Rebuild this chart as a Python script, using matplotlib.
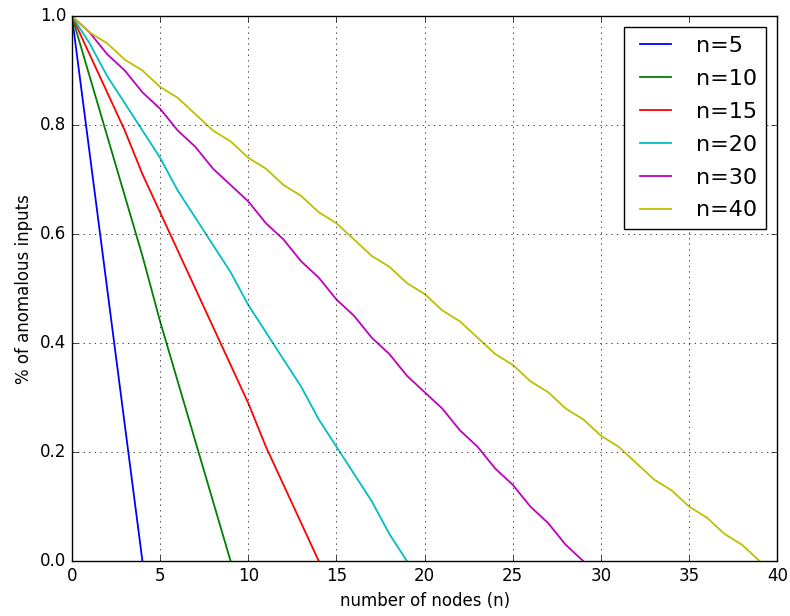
import matplotlib
matplotlib.use("Agg")
import matplotlib.pyplot as plt

# fraction of anomalous inputs left, per number of nodes, for each setting of n
x5 = [0, 1, 2, 3, 4]
y5 = [1.00, 0.75, 0.50, 0.25, 0.00]

x10 = list(range(10))
y10 = [1.00, 0.89, 0.78, 0.67, 0.56, 0.44, 0.33, 0.22, 0.11, 0.00]

x15 = list(range(15))
y15 = [1.00, 0.93, 0.86, 0.79, 0.71, 0.64, 0.57, 0.50, 0.43, 0.36,
       0.29, 0.21, 0.14, 0.07, 0.00]

x20 = list(range(20))
y20 = [1.00, 0.95, 0.89, 0.84, 0.79, 0.74, 0.68, 0.63, 0.58, 0.53,
       0.47, 0.42, 0.37, 0.32, 0.26, 0.21, 0.16, 0.11, 0.05, 0.00]

x30 = list(range(30))
y30 = [1.00, 0.97, 0.93, 0.90, 0.86, 0.83, 0.79, 0.76, 0.72, 0.69,
       0.66, 0.62, 0.59, 0.55, 0.52, 0.48, 0.45, 0.41, 0.38, 0.34,
       0.31, 0.28, 0.24, 0.21, 0.17, 0.14, 0.10, 0.07, 0.03, 0.00]

x40 = list(range(40))
y40 = [1.00, 0.97, 0.95, 0.92, 0.90, 0.87, 0.85, 0.82, 0.79, 0.77,
       0.74, 0.72, 0.69, 0.67, 0.64, 0.62, 0.59, 0.56, 0.54, 0.51,
       0.49, 0.46, 0.44, 0.41, 0.38, 0.36, 0.33, 0.31, 0.28, 0.26,
       0.23, 0.21, 0.18, 0.15, 0.13, 0.10, 0.08, 0.05, 0.03, 0.00]

labels = ["n=5", "n=10", "n=15", "n=20", "n=30", "n=40"]
colors = ["b", "g", "r", "c", "m", "y"]

plt.style.use("classic")

fig = plt.figure(figsize=(7.9, 6.16), dpi=100)
fig.subplots_adjust(left=0.091, right=0.984, top=0.974, bottom=0.089)
ax = fig.add_subplot(1, 1, 1)

series = [(x5, y5), (x10, y10), (x15, y15), (x20, y20), (x30, y30), (x40, y40)]
for (xs, ys), lab, col in zip(series, labels, colors):
    ax.plot(xs, ys, color=col, label=lab, linewidth=1.3)

ax.set_xlim(0, 40)
ax.set_ylim(0, 1)
ax.grid(True)
ax.set_xlabel("number of nodes (n)")
ax.set_ylabel("% of anomalous inputs")
ax.legend(loc="upper right", fontsize=16, handlelength=2.0,
          handletextpad=0.85, labelspacing=0.58, borderaxespad=0.5,
          borderpad=0.4)

fig.savefig("out.png", dpi=100)
